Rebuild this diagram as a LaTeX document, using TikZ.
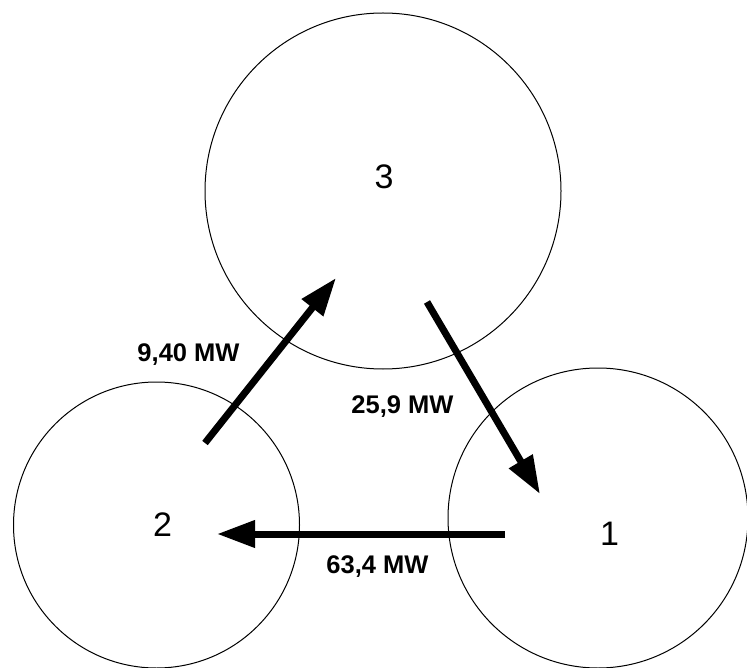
\documentclass[tikz,border=0pt]{standalone}
\usepackage{fontspec}
\setmainfont{Liberation Sans}
\usetikzlibrary{arrows.meta}
\begin{document}
\begin{tikzpicture}[x=1pt,y=-1pt,
  bus/.style={draw=black,circle,line width=1pt,inner sep=0pt},
  flow/.style={line width=7pt,-{Triangle[length=38pt,width=26pt]}},
  flowlabel/.style={anchor=base,inner sep=0pt,font=\fontsize{25.5pt}{30pt}\selectfont\bfseries},
  busnum/.style={anchor=base,inner sep=0pt,font=\fontsize{34pt}{40pt}\selectfont}]
\useasboundingbox (0,0) rectangle (747,668);
\node[bus,minimum size=356pt] (c3) at (383,191) {};
\node[bus,minimum size=286pt] (c2) at (156.5,525) {};
\node[bus,minimum size=300pt] (c1) at (598,518) {};
\node[busnum] (n3) at (384,189) {3};
\node[busnum] (n2) at (162.5,536) {2};
\node[busnum] (n1) at (609.5,545) {1};
\coordinate (a1) at (205,443);
\coordinate (a2) at (336,278);
\coordinate (b1) at (427,302);
\coordinate (b2) at (540,494);
\coordinate (d1) at (505,534);
\coordinate (d2) at (217,534);
\draw[flow] (a1) -- (a2);
\draw[flow] (b1) -- (b2);
\draw[flow] (d1) -- (d2);
\node[flowlabel] (l23) at (188.5,361) {9,40 MW};
\node[flowlabel] (l31) at (402.5,413) {25,9 MW};
\node[flowlabel] (l12) at (377.5,573) {63,4 MW};
\end{tikzpicture}
\end{document}
